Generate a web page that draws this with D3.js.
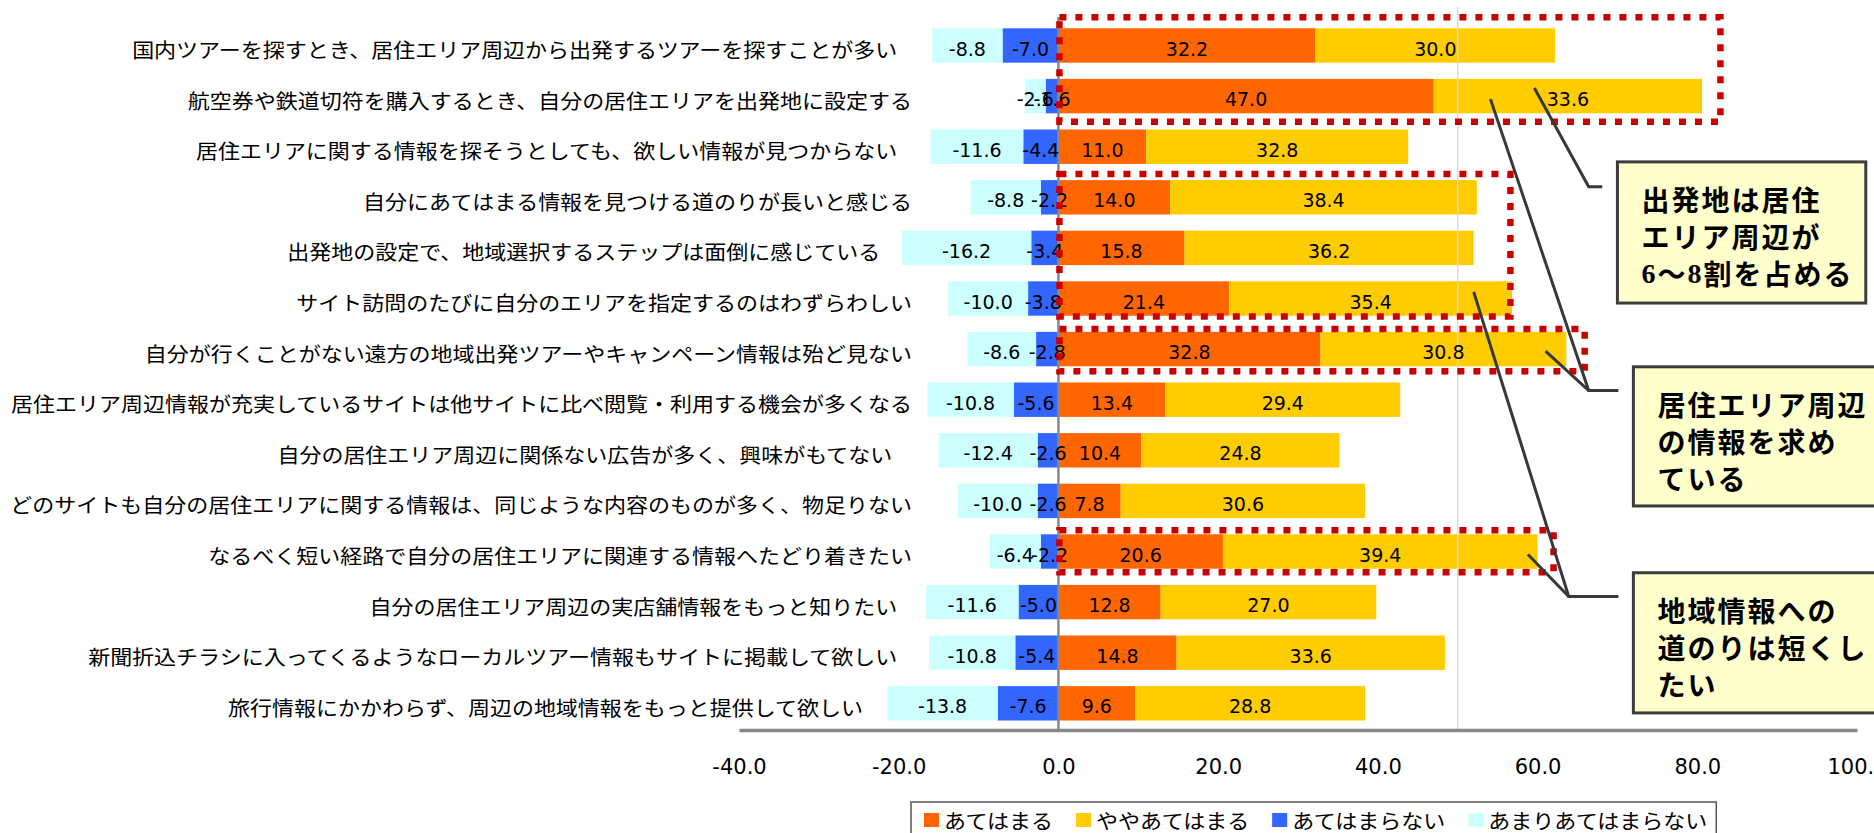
<!DOCTYPE html>
<html>
<head>
<meta charset="utf-8">
<script src="https://cdn.jsdelivr.net/npm/d3@7"></script>
<style>
  html, body { margin: 0; padding: 0; background: #fff; }
  svg { display: block; }
  .cat, .leg { white-space: pre; }
</style>
</head>
<body>
<svg id="chart" width="1874" height="833"></svg>
<script>
// ---- survey items (top to bottom) ----
const categories = [
  "国内ツアーを探すとき、居住エリア周辺から出発するツアーを探すことが多い   ",
  "航空券や鉄道切符を購入するとき、自分の居住エリアを出発地に設定する",
  "居住エリアに関する情報を探そうとしても、欲しい情報が見つからない   ",
  "自分にあてはまる情報を見つける道のりが長いと感じる",
  "出発地の設定で、地域選択するステップは面倒に感じている\u3000  ",
  "サイト訪問のたびに自分のエリアを指定するのはわずらわしい",
  "自分が行くことがない遠方の地域出発ツアーやキャンペーン情報は殆ど見ない",
  "居住エリア周辺情報が充実しているサイトは他サイトに比べ閲覧・利用する機会が多くなる",
  "自分の居住エリア周辺に関係ない広告が多く、興味がもてない    ",
  "どのサイトも自分の居住エリアに関する情報は、同じような内容のものが多く、物足りない",
  "なるべく短い経路で自分の居住エリアに関連する情報へたどり着きたい",
  "自分の居住エリア周辺の実店舗情報をもっと知りたい   ",
  "新聞折込チラシに入ってくるようなローカルツアー情報もサイトに掲載して欲しい   ",
  "旅行情報にかかわらず、周辺の地域情報をもっと提供して欲しい\u3000\u3000 "
];

// ---- response shares (%) ----
const agree          = [32.2, 47.0, 11.0, 14.0, 15.8, 21.4, 32.8, 13.4, 10.4, 7.8, 20.6, 12.8, 14.8, 9.6];
const somewhatAgree  = [30.0, 33.6, 32.8, 38.4, 36.2, 35.4, 30.8, 29.4, 24.8, 30.6, 39.4, 27.0, 33.6, 28.8];
const disagree       = [-7.0, -1.6, -4.4, -2.2, -3.4, -3.8, -2.8, -5.6, -2.6, -2.6, -2.2, -5.0, -5.4, -7.6];
const notReallyAgree = [-8.8, -2.6, -11.6, -8.8, -16.2, -10.0, -8.6, -10.8, -12.4, -10.0, -6.4, -11.6, -10.8, -13.8];

const seriesNames = ["あてはまる", "ややあてはまる", "あてはまらない", "あまりあてはまらない"];
const xTicks = [-40, -20, 0, 20, 40, 60, 80, 100];

// ---- annotation layout (data units on x, row units on y) ----
const highlights = [
  { rows: [0, 1],   xMax: 82.9, padTop: 11, padBottom: 8.5 },
  { rows: [3, 5],   xMax: 56.6, padTop: 6,  padBottom: 0.8 },
  { rows: [6, 6],   xMax: 65.9, padTop: 3,  padBottom: 5 },
  { rows: [10, 10], xMax: 62.0, padTop: 4,  padBottom: 3.5 }
];
const callouts = [
  { lines: ["出発地は居住", "エリア周辺が", "6〜8割を占める"],
    left: 70.0, right: 101.1, top: 2.30, bottom: 5.09,
    elbow: [66.4, 2.79], tail: 68.1, from: [[59.6, 0.84]] },
  { lines: ["居住エリア周辺", "の情報を求め", "ている"],
    left: 72.0, right: 102.6, top: 6.35, bottom: 9.10,
    elbow: [66.4, 6.82], tail: 70.1, from: [[54.1, 1.06], [61.0, 6.04]] },
  { lines: ["地域情報への", "道のりは短くし", "たい"],
    left: 72.0, right: 102.6, top: 10.42, bottom: 13.19,
    elbow: [63.9, 10.89], tail: 70.1, from: [[52.0, 4.87], [58.8, 10.06]] }
];

const colors = { agree: "#FF6600", somewhat: "#FFCC00", disagree: "#3366FF", notReally: "#CCFFFF" };
const keys = ["agree", "somewhat", "disagree", "notReally"];

const fmt = d3.formatLocale({ decimal: ".", thousands: ",", grouping: [3], currency: ["", ""], minus: "-" }).format(".1f");
const jpFont = "'Noto Sans CJK JP', 'Noto Sans', sans-serif";
const numFont = "'DejaVu Sans', 'Liberation Sans', sans-serif";

const svg = d3.select("#chart");

const x = d3.scaleLinear().domain([-40, 100]).range([739, 1857]);
const y = d3.scaleBand()
  .domain(d3.range(categories.length))
  .range([20.2, 728.6])
  .paddingInner(0.32)
  .paddingOuter(0.16);
const rowY = r => y(0) + y.bandwidth() / 2 + r * y.step();

const rows = categories.map((c, i) => ({
  i, agree: agree[i], somewhat: somewhatAgree[i], disagree: disagree[i], notReally: notReallyAgree[i]
}));
const stacked = d3.stack().keys(keys).offset(d3.stackOffsetDiverging)(rows);

// ---- bars ----
const gBars = svg.append("g");
stacked.forEach(s => {
  gBars.selectAll(null).data(s).join("rect")
    .attr("x", d => x(d[0]))
    .attr("width", d => x(d[1]) - x(d[0]))
    .attr("y", d => y(d.data.i))
    .attr("height", y.bandwidth())
    .attr("fill", colors[s.key]);
});

// reference line at 50
svg.append("line")
  .attr("x1", x(50)).attr("x2", x(50))
  .attr("y1", 7).attr("y2", 729)
  .attr("stroke", "#d9d9d9").attr("stroke-width", 1.5);

// zero line
svg.append("line")
  .attr("x1", x(0)).attr("x2", x(0))
  .attr("y1", 17).attr("y2", 730)
  .attr("stroke", "#888").attr("stroke-width", 2.5);

// ---- x axis ----
const axis = svg.append("g")
  .attr("transform", "translate(0,730)")
  .call(d3.axisBottom(x).tickValues(xTicks).tickFormat(fmt).tickSize(0).tickSizeOuter(0).tickPadding(29));
axis.select(".domain").attr("stroke", "#888").attr("stroke-width", 3.5);
axis.selectAll("text")
  .attr("font-family", numFont).attr("font-size", 21).attr("fill", "#000");

// ---- value labels ----
const gLab = svg.append("g")
  .attr("font-family", numFont).attr("font-size", 19)
  .attr("text-anchor", "middle").attr("dominant-baseline", "central");
stacked.forEach(s => {
  gLab.selectAll(null).data(s).join("text")
    .attr("x", d => x((d[0] + d[1]) / 2))
    .attr("y", d => y(d.data.i) + y.bandwidth() / 2 + 3)
    .text(d => fmt(d.data[s.key]));
});

// ---- category labels ----
svg.append("g").selectAll("text").data(categories).join("text")
  .attr("class", "cat")
  .attr("xml:space", "preserve")
  .attr("transform", (d, i) => `translate(912,${y(i) + y.bandwidth() / 2 + 4}) scale(1.1,1)`)
  .attr("text-anchor", "end")
  .attr("dominant-baseline", "central")
  .attr("font-family", jpFont).attr("font-size", 20).attr("fill", "#000")
  .text(d => d);

// ---- dotted highlight frames ----
svg.append("g").selectAll("rect").data(highlights).join("rect")
  .attr("x", x(0) + 1)
  .attr("y", d => y(d.rows[0]) - d.padTop)
  .attr("width", d => x(d.xMax) - x(0) - 1)
  .attr("height", d => y(d.rows[1]) + y.bandwidth() + d.padBottom - (y(d.rows[0]) - d.padTop))
  .attr("fill", "none")
  .attr("stroke", "#CC0000").attr("stroke-width", 6.5)
  .attr("stroke-dasharray", "7 9");

// ---- connector lines ----
const gConn = svg.append("g")
  .attr("fill", "none").attr("stroke", "#383838").attr("stroke-width", 3)
  .attr("stroke-linejoin", "miter");
callouts.forEach(c => {
  const ex = x(c.elbow[0]), ey = rowY(c.elbow[1]);
  c.from.forEach(p => {
    gConn.append("path").attr("d", d3.line()([[x(p[0]), rowY(p[1])], [ex, ey], [x(c.tail), ey]]));
  });
});

// ---- callout boxes ----
const gCall = svg.append("g");
callouts.forEach(c => {
  const top = rowY(c.top), bottom = rowY(c.bottom);
  gCall.append("rect")
    .attr("x", x(c.left)).attr("y", top)
    .attr("width", x(c.right) - x(c.left)).attr("height", bottom - top)
    .attr("fill", "#FFFFCC").attr("stroke", "#3c3c3c").attr("stroke-width", 3);
  c.lines.forEach((line, k) => {
    const t = gCall.append("text")
      .attr("x", x(c.left) + 24)
      .attr("y", top + 37 + k * 37)
      .attr("dominant-baseline", "central")
      .attr("font-family", jpFont).attr("font-weight", "bold")
      .attr("font-size", 28).attr("letter-spacing", 2).attr("fill", "#000");
    line.split(/(\d+)/).filter(s => s.length).forEach(s => {
      const ts = t.append("tspan").text(s);
      if (/\d/.test(s)) ts.attr("font-family", "'Liberation Serif', serif");
    });
  });
});

// ---- legend ----
const gLeg = svg.append("g");
const legFrame = gLeg.append("rect")
  .attr("y", 802).attr("height", 40)
  .attr("fill", "#fff").attr("stroke", "#555").attr("stroke-width", 1.5);
let lx = 924;
const legLeft = 911;
seriesNames.forEach((name, k) => {
  gLeg.append("rect")
    .attr("x", lx).attr("y", 813).attr("width", 15).attr("height", 14)
    .attr("fill", colors[keys[k]]);
  const t = gLeg.append("text")
    .attr("class", "leg")
    .attr("transform", `translate(${lx + 20},820) scale(1.1,1)`)
    .attr("dominant-baseline", "central")
    .attr("font-family", jpFont).attr("font-size", 20).attr("fill", "#000")
    .text(name);
  const w = t.node().getComputedTextLength() * 1.1;
  lx = lx + 20 + w + (k < seriesNames.length - 1 ? 23 : 0);
});
legFrame.attr("x", legLeft).attr("width", lx + 9 - legLeft);
</script>
</body>
</html>
